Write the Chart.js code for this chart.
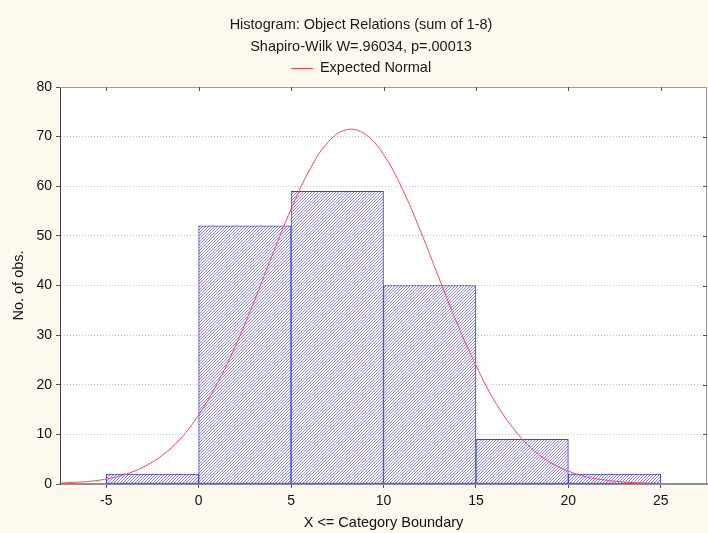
<!DOCTYPE html>
<html>
<head>
<meta charset="utf-8">
<script src="https://cdn.jsdelivr.net/npm/chart.js@4.4.1/dist/chart.umd.min.js"></script>
<style>
  html, body { margin: 0; padding: 0; background: #fdf9ef; }
  #wrap { width: 708px; height: 533px; }
</style>
</head>
<body>
<div id="wrap"><canvas id="hist" width="708" height="533"></canvas></div>
<script>
// histogram bins (centres) and counts
const binCenters = [-2.5, 2.5, 7.5, 12.5, 17.5, 22.5];
const binCounts = [2, 52, 59, 40, 9, 2];

// expected normal curve
const normalX = [-7.5, -7, -6, -5, -4, -3, -2, -1, 0, 1, 2, 3, 4, 5, 6, 7, 8, 9, 10, 11, 12, 13, 14, 15, 16, 17, 18, 19, 20, 21, 22, 23, 24, 25];
const normalY = [0.2, 0.3, 0.5, 1.0, 1.9, 3.4, 5.7, 9.1, 13.9, 20.2, 27.9, 36.8, 46.3, 55.4, 63.3, 68.9, 71.4, 70.5, 66.4, 59.6, 51.0, 41.5, 32.2, 23.9, 16.8, 11.3, 7.2, 4.4, 2.6, 1.4, 0.8, 0.4, 0.2, 0.1];

const xTicks = [-5, 0, 5, 10, 15, 20, 25];
const yTicks = [0, 10, 20, 30, 40, 50, 60, 70, 80];

const titleLines = ['Histogram: Object Relations (sum of 1-8)', 'Shapiro-Wilk W=.96034, p=.00013'];
const legendLabel = 'Expected Normal';

const FONT = 'Arial, "Liberation Sans", sans-serif';

function hatch() {
    const c = document.createElement('canvas');
    c.width = 3; c.height = 3;
    const g = c.getContext('2d');
    g.fillStyle = '#ffffff';
    g.fillRect(0, 0, 3, 3);
    g.fillStyle = '#8484ff';
    for (let i = 0; i < 3; i++) g.fillRect(i, 2 - i, 1, 1);
    return g.createPattern(c, 'repeat');
}

const frame = {
    id: 'frame',
    beforeDraw(chart) {
        const { ctx, chartArea: a } = chart;
        ctx.save();
        ctx.fillStyle = '#fdf9ef';
        ctx.fillRect(0, 0, chart.width, chart.height);
        ctx.fillStyle = '#ffffff';
        ctx.fillRect(a.left, a.top, a.right - a.left, a.bottom - a.top);
        ctx.restore();
    },
    afterDraw(chart) {
        const { ctx, chartArea: a, scales } = chart;
        ctx.save();
        // top and right border with inward ticks
        ctx.strokeStyle = '#9a9a9a';
        ctx.lineWidth = 1;
        ctx.beginPath();
        ctx.moveTo(a.left, a.top + 0.5);
        ctx.lineTo(a.right, a.top + 0.5);
        ctx.moveTo(a.right - 0.5, a.top);
        ctx.lineTo(a.right - 0.5, a.bottom);
        ctx.stroke();
        ctx.strokeStyle = '#555555';
        ctx.beginPath();
        xTicks.forEach(v => {
            const px = Math.round(scales.x.getPixelForValue(v)) + 0.5;
            ctx.moveTo(px, a.top);
            ctx.lineTo(px, a.top + 4);
        });
        yTicks.slice(1, -1).forEach(v => {
            const py = Math.round(scales.y.getPixelForValue(v)) + 0.5;
            ctx.moveTo(a.right, py);
            ctx.lineTo(a.right - 4, py);
        });
        ctx.stroke();

        // titles
        ctx.fillStyle = '#1a1a1a';
        ctx.font = '14.5px ' + FONT;
        ctx.textAlign = 'center';
        ctx.textBaseline = 'middle';
        ctx.fillText(titleLines[0], 361, 25);
        ctx.fillText(titleLines[1], 361, 47);

        // legend
        const tw = ctx.measureText(legendLabel).width;
        const x0 = 361 - (29 + tw) / 2;
        ctx.strokeStyle = '#ff4040';
        ctx.beginPath();
        ctx.moveTo(x0, 68.5);
        ctx.lineTo(x0 + 22, 68.5);
        ctx.stroke();
        ctx.textAlign = 'left';
        ctx.fillText(legendLabel, x0 + 29, 68);
        ctx.restore();
    }
};

new Chart(document.getElementById('hist'), {
    data: {
        datasets: [{
            type: 'bar',
            label: 'No. of obs.',
            order: 1,
            data: binCenters.map((x, i) => ({ x: x, y: binCounts[i] })),
            backgroundColor: hatch(),
            borderColor: '#3a3aff',
            borderWidth: 1,
            borderSkipped: false,
            barPercentage: 1,
            categoryPercentage: 1,
            grouped: false
        }, {
            type: 'line',
            label: legendLabel,
            order: 0,
            data: normalX.map((x, i) => ({ x: x, y: normalY[i] })),
            borderColor: '#ff4a4a',
            borderWidth: 1,
            pointRadius: 0,
            tension: 0.4,
            fill: false
        }]
    },
    options: {
        responsive: false,
        animation: false,
        layout: { padding: { top: 87, right: 1, left: 0, bottom: 0 } },
        plugins: {
            legend: { display: false },
            title: { display: false },
            tooltip: { enabled: false }
        },
        scales: {
            x: {
                type: 'linear',
                offset: false,
                min: -7.5,
                max: 27.5,
                afterBuildTicks: s => { s.ticks = xTicks.map(v => ({ value: v })); },
                afterFit: s => { s.height = 49; },
                ticks: { color: '#111', font: { family: FONT, size: 14 }, padding: 5 },
                grid: { offset: false, drawOnChartArea: false, drawTicks: true, tickLength: 4, color: '#555' },
                border: { color: '#909090', width: 2 },
                title: {
                    display: true,
                    text: 'X <= Category Boundary',
                    color: '#111',
                    font: { family: FONT, size: 14.5 },
                    padding: { top: 0, bottom: 1 }
                }
            },
            y: {
                min: 0,
                max: 80,
                afterBuildTicks: s => { s.ticks = yTicks.map(v => ({ value: v })); },
                afterFit: s => { s.width = 60; },
                ticks: { color: '#111', font: { family: FONT, size: 14 }, padding: 4 },
                grid: {
                    color: '#c8c8c8',
                    tickColor: '#555',
                    tickLength: 4,
                    tickBorderDash: [],
                    drawTicks: true
                },
                border: { color: '#444', width: 1, dash: [1, 2] },
                title: {
                    display: true,
                    text: 'No. of obs.',
                    color: '#111',
                    font: { family: FONT, size: 14.5 },
                    padding: { top: 10, bottom: 0 }
                }
            }
        }
    },
    plugins: [frame]
});
</script>
</body>
</html>
